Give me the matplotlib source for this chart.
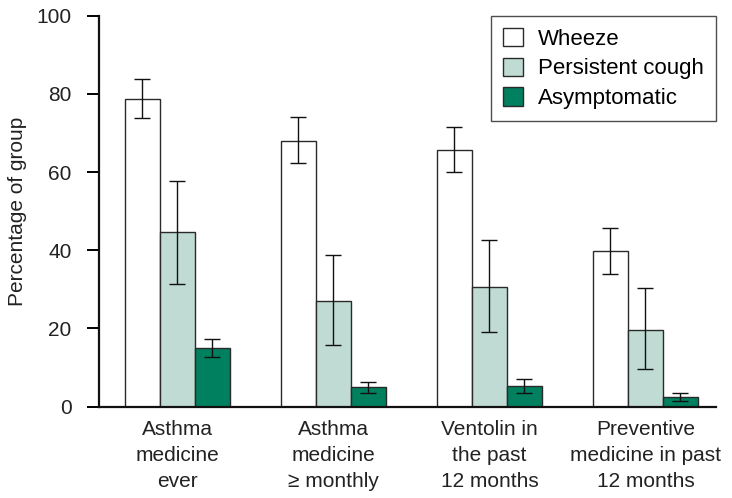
import matplotlib
matplotlib.use("Agg")
import matplotlib.pyplot as plt
import numpy as np

plt.rcParams['font.family'] = ['Liberation Sans', 'DejaVu Sans']

categories = ["Asthma\nmedicine\never", "Asthma\nmedicine\n\u2265 monthly",
              "Ventolin in\nthe past\n12 months", "Preventive\nmedicine in past\n12 months"]
series = ["Wheeze", "Persistent cough", "Asymptomatic"]
values = {
    "Wheeze": [78.7, 67.9, 65.6, 39.9],
    "Persistent cough": [44.6, 26.9, 30.6, 19.7],
    "Asymptomatic": [14.9, 4.9, 5.3, 2.4],
}
err_low = {
    "Wheeze": [73.7, 62.3, 60.0, 34.0],
    "Persistent cough": [31.3, 15.8, 19.0, 9.6],
    "Asymptomatic": [12.7, 3.4, 3.5, 1.4],
}
err_high = {
    "Wheeze": [83.8, 74.2, 71.6, 45.6],
    "Persistent cough": [57.8, 38.8, 42.5, 30.3],
    "Asymptomatic": [17.3, 6.3, 7.1, 3.5],
}
colors = {"Wheeze": "#ffffff", "Persistent cough": "#bfdbd3", "Asymptomatic": "#00805f"}
yticks = [0, 20, 40, 60, 80, 100]

FS = 15

fig = plt.figure(figsize=(7.32, 4.98), dpi=100)
ax = fig.add_axes([0.1352, 0.1837, 0.978 - 0.1352, 0.9685 - 0.1837])

x = np.arange(len(categories))
w = 0.224
for i, s in enumerate(series):
    pos = x + (i - 1) * w
    v = np.array(values[s])
    lo = v - np.array(err_low[s])
    hi = np.array(err_high[s]) - v
    ax.bar(pos, v, width=w, color=colors[s], edgecolor="#2a2a2a", linewidth=1.0,
           label=s, zorder=2)
    ax.errorbar(pos, v, yerr=[lo, hi], fmt="none", ecolor="#111111",
                elinewidth=1.0, capsize=5.8, capthick=1.0, zorder=3)

ax.set_xlim(-0.503, 3.452)
ax.set_ylim(0, 100)
ax.set_yticks(yticks)
ax.set_xticks(x)
ax.set_xticklabels(categories, fontsize=FS, color="#222222", linespacing=1.45)
ax.tick_params(axis="x", length=0, pad=10)
ax.tick_params(axis="y", length=8.6, width=1.4, pad=11, labelsize=FS, labelcolor="#222222")
for sp in ["top", "right"]:
    ax.spines[sp].set_visible(False)
for sp in ["left", "bottom"]:
    ax.spines[sp].set_linewidth(1.6)
    ax.spines[sp].set_color("#111111")
ax.set_ylabel("Percentage of group", fontsize=FS, color="#222222", labelpad=7)

leg = ax.legend(loc="upper right", bbox_to_anchor=(1.0, 1.0), fontsize=16,
                frameon=True, fancybox=False, edgecolor="#222222",
                handlelength=0.9, handleheight=0.9, handletextpad=0.65,
                labelspacing=0.35, borderpad=0.55, borderaxespad=0.0)
leg.get_frame().set_linewidth(1.0)

fig.savefig("out.png", dpi=100)
